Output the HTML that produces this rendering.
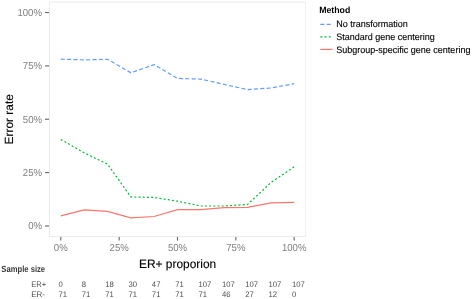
<!DOCTYPE html>
<html><head><meta charset="utf-8"><style>
html,body{margin:0;padding:0;background:#fff;width:472px;height:299px;overflow:hidden}
svg{display:block;filter:blur(0.3px)}
text{font-family:"Liberation Sans",sans-serif;text-rendering:geometricPrecision}
.tick{font-size:9.6px;fill:#7F7F7F}
.title{font-size:12.1px;fill:#000;stroke:#000;stroke-width:0.12px}
.ytitle{font-size:11.9px;fill:#000;stroke:#000;stroke-width:0.12px}
.legt{font-size:9px;font-weight:bold;fill:#000}
.leg{font-size:9.4px;fill:#000;stroke:#000;stroke-width:0.12px}
.ss{font-size:9px;font-weight:bold;fill:#3a3a3a}
.tab{font-size:8px;fill:#4D4D4D}
</style></head><body>
<svg width="472" height="299" viewBox="0 0 472 299">
<rect x="0" y="0" width="472" height="299" fill="#fff"/>
<path d="M49.5,2 V236.5 H305.5" fill="none" stroke="#EBEBEB" stroke-width="1"/>
<path d="M49.5,2 H305.5" fill="none" stroke="#EBEBEB" stroke-width="1"/>
<path d="M305.5,2 V236.5" fill="none" stroke="#F1F1F1" stroke-width="1"/>
<line x1="45" y1="12.5" x2="49" y2="12.5" stroke="#666" stroke-width="1.1"/>
<text transform="translate(42.00,15.75) scale(1.0,1.06)" text-anchor="end" class="tick">100%</text>
<line x1="45" y1="65.9" x2="49" y2="65.9" stroke="#666" stroke-width="1.1"/>
<text transform="translate(42.00,69.15) scale(1.0,1.06)" text-anchor="end" class="tick">75%</text>
<line x1="45" y1="119.25" x2="49" y2="119.25" stroke="#666" stroke-width="1.1"/>
<text transform="translate(42.00,122.50) scale(1.0,1.06)" text-anchor="end" class="tick">50%</text>
<line x1="45" y1="172.6" x2="49" y2="172.6" stroke="#666" stroke-width="1.1"/>
<text transform="translate(42.00,175.85) scale(1.0,1.06)" text-anchor="end" class="tick">25%</text>
<line x1="45" y1="226.0" x2="49" y2="226.0" stroke="#666" stroke-width="1.1"/>
<text transform="translate(42.00,229.25) scale(1.0,1.06)" text-anchor="end" class="tick">0%</text>
<line x1="60.80" y1="237" x2="60.80" y2="240.6" stroke="#666" stroke-width="1.1"/>
<text transform="translate(60.80,250.90) scale(1.0,1.06)" text-anchor="middle" class="tick">0%</text>
<line x1="119.15" y1="237" x2="119.15" y2="240.6" stroke="#666" stroke-width="1.1"/>
<text transform="translate(119.15,250.90) scale(1.0,1.06)" text-anchor="middle" class="tick">25%</text>
<line x1="177.50" y1="237" x2="177.50" y2="240.6" stroke="#666" stroke-width="1.1"/>
<text transform="translate(177.50,250.90) scale(1.0,1.06)" text-anchor="middle" class="tick">50%</text>
<line x1="235.85" y1="237" x2="235.85" y2="240.6" stroke="#666" stroke-width="1.1"/>
<text transform="translate(235.85,250.90) scale(1.0,1.06)" text-anchor="middle" class="tick">75%</text>
<line x1="294.20" y1="237" x2="294.20" y2="240.6" stroke="#666" stroke-width="1.1"/>
<text transform="translate(294.20,250.90) scale(1.0,1.06)" text-anchor="middle" class="tick">100%</text>
<polyline points="60.80,59.10 84.14,59.90 107.48,59.30 130.82,72.80 154.16,64.60 177.50,78.40 200.84,79.10 224.18,84.40 247.52,89.60 270.86,88.00 294.20,83.70" fill="none" stroke="#619CFF" stroke-width="1.2" stroke-dasharray="4.0 2.35"/>
<polyline points="60.80,139.40 84.14,152.80 107.48,164.10 130.82,196.90 154.16,197.50 177.50,201.20 200.84,206.00 224.18,206.00 247.52,204.50 270.86,182.60 294.20,166.80" fill="none" stroke="#00BA38" stroke-width="1.2" stroke-dasharray="2 2.2"/>
<polyline points="60.80,215.80 84.14,209.90 107.48,211.30 130.82,217.90 154.16,216.50 177.50,209.60 200.84,209.60 224.18,207.70 247.52,207.30 270.86,202.90 294.20,202.40" fill="none" stroke="#F8766D" stroke-width="1.2"/>
<text transform="translate(177.60,267.70) scale(0.985,1)" text-anchor="middle" class="title">ER+ proporion</text>
<text transform="translate(12.80,119.30) rotate(-90)" text-anchor="middle" class="ytitle">Error rate</text>
<text transform="translate(319.20,13.00) scale(0.97,1)" class="legt">Method</text>
<line x1="320.3" y1="24.4" x2="332.6" y2="24.4" stroke="#619CFF" stroke-width="1.2" stroke-dasharray="4.0 2.35"/>
<text transform="translate(336.30,27.40) scale(0.96,1)" class="leg">No transformation</text>
<line x1="320.3" y1="36.8" x2="332.6" y2="36.8" stroke="#00BA38" stroke-width="1.2" stroke-dasharray="2 2.2"/>
<text transform="translate(336.30,39.90) scale(0.96,1)" class="leg">Standard gene centering</text>
<line x1="320.3" y1="49.4" x2="332.6" y2="49.4" stroke="#F8766D" stroke-width="1.2"/>
<text transform="translate(336.30,52.50) scale(0.96,1)" class="leg">Subgroup-specific gene centering</text>
<text transform="translate(1.30,271.60) scale(0.85,1)" class="ss">Sample size</text>
<text transform="translate(31.20,286.80) scale(0.96,1)" class="tab">ER+</text>
<text transform="translate(31.20,297.20)" class="tab">ER-</text>
<text transform="translate(58.50,286.80) scale(0.96,1)" class="tab">0</text>
<text transform="translate(58.50,297.20) scale(0.96,1)" class="tab">71</text>
<text transform="translate(81.84,286.80) scale(0.96,1)" class="tab">8</text>
<text transform="translate(81.84,297.20) scale(0.96,1)" class="tab">71</text>
<text transform="translate(105.18,286.80) scale(0.96,1)" class="tab">18</text>
<text transform="translate(105.18,297.20) scale(0.96,1)" class="tab">71</text>
<text transform="translate(128.52,286.80) scale(0.96,1)" class="tab">30</text>
<text transform="translate(128.52,297.20) scale(0.96,1)" class="tab">71</text>
<text transform="translate(151.86,286.80) scale(0.96,1)" class="tab">47</text>
<text transform="translate(151.86,297.20) scale(0.96,1)" class="tab">71</text>
<text transform="translate(175.20,286.80) scale(0.96,1)" class="tab">71</text>
<text transform="translate(175.20,297.20) scale(0.96,1)" class="tab">71</text>
<text transform="translate(198.54,286.80) scale(0.96,1)" class="tab">107</text>
<text transform="translate(198.54,297.20) scale(0.96,1)" class="tab">71</text>
<text transform="translate(221.88,286.80) scale(0.96,1)" class="tab">107</text>
<text transform="translate(221.88,297.20) scale(0.96,1)" class="tab">46</text>
<text transform="translate(245.22,286.80) scale(0.96,1)" class="tab">107</text>
<text transform="translate(245.22,297.20) scale(0.96,1)" class="tab">27</text>
<text transform="translate(268.56,286.80) scale(0.96,1)" class="tab">107</text>
<text transform="translate(268.56,297.20) scale(0.96,1)" class="tab">12</text>
<text transform="translate(291.90,286.80) scale(0.96,1)" class="tab">107</text>
<text transform="translate(291.90,297.20) scale(0.96,1)" class="tab">0</text>
</svg>
</body></html>
